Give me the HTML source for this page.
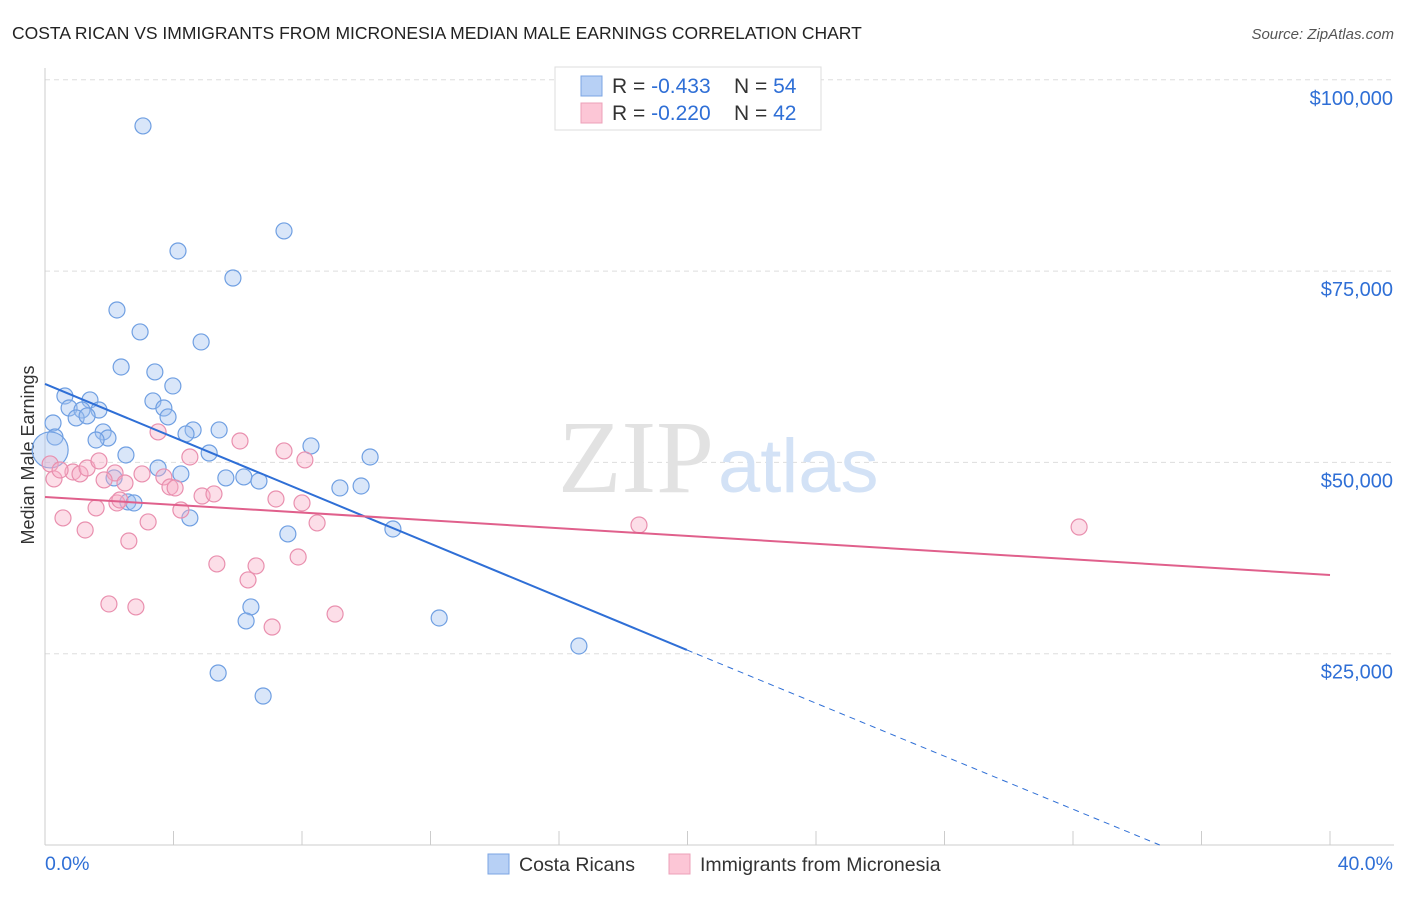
<!DOCTYPE html>
<html><head><meta charset="utf-8"><style>
body{margin:0;background:#fff;font-family:"Liberation Sans",sans-serif}
svg text{font-family:"Liberation Sans",sans-serif}
</style></head><body>
<svg id="c" width="1406" height="892" xmlns="http://www.w3.org/2000/svg">
<text x="12" y="39" font-size="17.5" fill="#222">COSTA RICAN VS IMMIGRANTS FROM MICRONESIA MEDIAN MALE EARNINGS CORRELATION CHART</text>
<text x="1394" y="39" font-size="15" fill="#555" text-anchor="end" font-style="italic">Source: ZipAtlas.com</text>
<g id="grid"></g>
<text x="714" y="492" font-size="104" fill="#e2e2e2" text-anchor="end" style="font-family:'Liberation Serif',serif">ZIP</text>
<text x="718" y="492" font-size="76" fill="#d3e2f6">atlas</text>
<text transform="translate(34,455) rotate(-90)" font-size="18" fill="#333" text-anchor="middle">Median Male Earnings</text>
<g id="marks"></g>
<g>
<rect x="555" y="67" width="266" height="63" fill="#fff" stroke="#ddd"/>
<rect x="581" y="76" width="21" height="20" fill="#b7d0f5" stroke="#7ba4e3"/>
<rect x="581" y="103" width="21" height="20" fill="#fcc6d6" stroke="#eca0b8"/>
<text x="612" y="93" font-size="21" fill="#333">R = <tspan fill="#2f6fd6">-0.433</tspan><tspan x="734">N = </tspan><tspan fill="#2f6fd6">54</tspan></text>
<text x="612" y="120" font-size="21" fill="#333">R = <tspan fill="#2f6fd6">-0.220</tspan><tspan x="734">N = </tspan><tspan fill="#2f6fd6">42</tspan></text>
</g>
<g>
<rect x="488" y="854" width="21" height="20" fill="#b7d0f5" stroke="#7ba4e3"/>
<text x="519" y="871" font-size="19.5" fill="#333">Costa Ricans</text>
<rect x="669" y="854" width="21" height="20" fill="#fcc6d6" stroke="#eca0b8"/>
<text x="700" y="871" font-size="19.5" fill="#333">Immigrants from Micronesia</text>
</g>
</svg>
<script>
const blueX=[3.05,7.44,4.14,5.85,2.24,2.96,4.86,2.37,3.42,3.98,0.62,1.40,3.36,0.75,1.68,3.70,1.15,0.97,1.31,3.83,0.25,1.81,4.61,5.42,4.39,1.96,1.59,0.31,8.28,5.11,2.52,10.12,3.52,4.23,5.63,6.19,6.66,9.18,9.84,2.15,2.58,2.77,4.51,10.83,7.56,6.41,6.26,12.27,16.62,5.39,6.79,0.16];
const blueY=[93970,80250,77630,74100,69920,67050,65740,62470,61820,59990,58680,58160,58030,57110,56850,57110,56850,55810,56070,55940,55150,53980,54240,54240,53720,53190,52930,53320,52150,51230,50970,50710,49270,48490,47970,48100,47570,46660,46920,47970,44830,44700,42740,41300,40650,31110,29280,29670,26010,22480,19470,51630];
const pinkX=[0.16,0.28,0.87,1.09,1.31,1.68,2.18,3.02,3.52,3.70,3.89,4.05,4.51,6.07,7.44,8.09,0.56,1.25,1.59,2.24,2.49,3.21,2.61,4.23,4.89,5.26,7.19,8.00,8.47,7.88,5.35,6.57,6.32,1.99,2.83,7.07,9.03,18.49,32.19,1.84,2.33,0.47];
const pinkY=[49800,47840,48750,48490,49270,50190,48620,48490,53980,48100,46790,46660,50710,52800,51500,50320,42740,41170,44050,44700,47310,42220,39730,43780,45610,45880,45220,44700,42090,37640,36730,36470,34640,31500,31110,28490,30190,41820,41560,47710,45090,49010];
const yTicks=[25000,50000,75000,100000];
const yTickLabels=["$25,000","$50,000","$75,000","$100,000"];
const blueTrend=[[0,60250],[19.98,25490],[34.7,0]];
const pinkTrend=[[0,45480],[40,35290]];
const X=v=>45+v/40*1285, Y=v=>845-v/25000*191.3;
const NS="http://www.w3.org/2000/svg";
function mk(t,a,p){const e=document.createElementNS(NS,t);for(const k in a)e.setAttribute(k,a[k]);p.appendChild(e);return e;}
const g=document.getElementById('grid'), m=document.getElementById('marks');
yTicks.forEach((t,i)=>{
 const l=mk('line',{x1:45,x2:1394,y1:Y(t),y2:Y(t),stroke:'#ddd','stroke-dasharray':'5,4'},g);
 
 
 const tx=mk('text',{x:1393,y:Y(t)+25,'font-size':20,fill:'#2f6fd6','text-anchor':'end'},g);
 tx.textContent=yTickLabels[i];
 
 
});
const ax=mk('line',{x1:45,x2:1394,y1:845,y2:845,stroke:'#ccc'},g);


const ay=mk('line',{x1:45,x2:45,y1:68,y2:845,stroke:'#ccc'},g);


for(let i=1;i<=10;i++){const t=mk('line',{x1:X(i*4),x2:X(i*4),y1:831,y2:845,stroke:'#ccc'},g);
 
 }
const x0=mk('text',{x:45,y:870,'font-size':19.5,fill:'#2f6fd6'},g);x0.textContent='0.0%';


const x1=mk('text',{x:1393,y:870,'font-size':19.5,fill:'#2f6fd6','text-anchor':'end'},g);x1.textContent='40.0%';


function dots(xs,ys,fill,stroke,name){xs.forEach((x,i)=>{
 const c=mk('circle',{cx:X(x),cy:Y(ys[i]),r:(name==='blue-point'&&i===xs.length-1)?18:8,fill:fill,stroke:stroke,'stroke-width':1.2},m);
 
 });}
dots(blueX,blueY,'rgba(160,192,240,0.4)','#6f9fe2','blue-point');
dots(pinkX,pinkY,'rgba(247,172,198,0.4)','#e98fae','pink-point');
const b1=mk('line',{x1:X(blueTrend[0][0]),y1:Y(blueTrend[0][1]),x2:X(blueTrend[1][0]),y2:Y(blueTrend[1][1]),stroke:'#2f6fd6','stroke-width':2},m);


const b2=mk('line',{x1:X(blueTrend[1][0]),y1:Y(blueTrend[1][1]),x2:X(blueTrend[2][0]),y2:Y(blueTrend[2][1]),stroke:'#2f6fd6','stroke-width':1,'stroke-dasharray':'6,5'},m);


const p1=mk('line',{x1:X(pinkTrend[0][0]),y1:Y(pinkTrend[0][1]),x2:X(pinkTrend[1][0]),y2:Y(pinkTrend[1][1]),stroke:'#e0608c','stroke-width':2},m);


</script>
</body></html>
